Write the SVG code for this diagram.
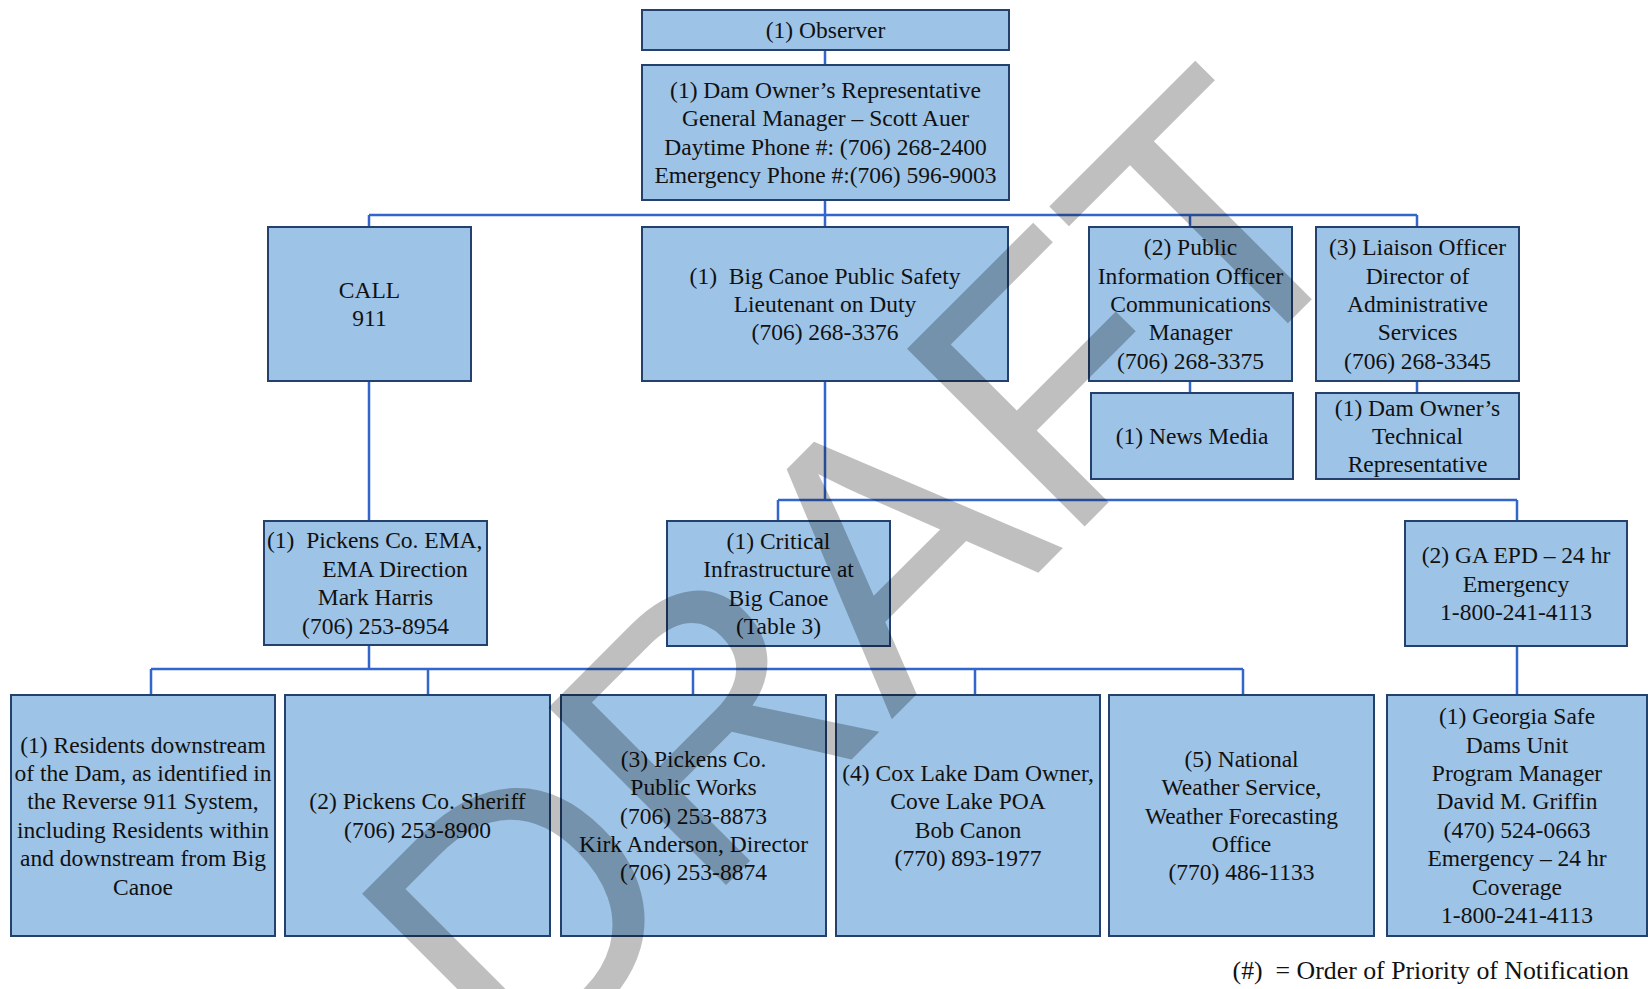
<svg xmlns="http://www.w3.org/2000/svg" width="1648" height="989" viewBox="0 0 1648 989">
<style>
.box{fill:#9DC3E6;stroke:#24406C;stroke-width:2}
.t{font-family:"Liberation Serif","Times New Roman",serif;font-size:23.5px;fill:#111;text-anchor:middle}
.conn{stroke:#3366CC;stroke-width:2.5;fill:none}
.wm{font-family:"Liberation Sans",Arial,sans-serif;font-size:365px;fill:#000;fill-opacity:0.25}
</style>
<rect width="1648" height="989" fill="#fff"/>
<g id="connectors">
<path class="conn" d="M825,50V65M825,200V227M369,215H1417M369,215V227M1190,215V227M1417,215V227M1190,381V393M1417,381V393M369,381V521M825,381V500M778,500H1517M778,500V521M1517,500V521M369,645V669M151,669H1243M151,669V695M428,669V695M693,669V695M975,669V695M1243,669V695M1517,646V695"/>
</g>
<g id="observer"><rect class="box" x="642" y="10" width="367" height="40"/>
<text class="t" x="825.5" y="38">(1) Observer</text></g>
<g id="dam-owner-rep"><rect class="box" x="642" y="65" width="367" height="135"/>
<text class="t" x="825.5" y="97.9"><tspan x="825.5">(1) Dam Owner’s Representative</tspan><tspan x="825.5" dy="28.4">General Manager – Scott Auer</tspan><tspan x="825.5" dy="28.4">Daytime Phone #: (706) 268-2400</tspan><tspan x="825.5" dy="28.4">Emergency Phone #:(706) 596-9003</tspan></text></g>
<g id="call-911"><rect class="box" x="268" y="227" width="203" height="154"/>
<text class="t" x="369.5" y="297.8"><tspan x="369.5">CALL</tspan><tspan x="369.5" dy="28.4">911</tspan></text></g>
<g id="big-canoe-safety"><rect class="box" x="642" y="227" width="366" height="154"/>
<text class="t" x="825" y="283.6"><tspan x="825" xml:space="preserve">(1)  Big Canoe Public Safety</tspan><tspan x="825" dy="28.4">Lieutenant on Duty</tspan><tspan x="825" dy="28.4">(706) 268-3376</tspan></text></g>
<g id="pio"><rect class="box" x="1089" y="227" width="203" height="154"/>
<text class="t" x="1190.5" y="255.2"><tspan x="1190.5">(2) Public</tspan><tspan x="1190.5" dy="28.4">Information Officer</tspan><tspan x="1190.5" dy="28.4">Communications</tspan><tspan x="1190.5" dy="28.4">Manager</tspan><tspan x="1190.5" dy="28.4">(706) 268-3375</tspan></text></g>
<g id="liaison"><rect class="box" x="1316" y="227" width="203" height="154"/>
<text class="t" x="1417.5" y="255.2"><tspan x="1417.5">(3) Liaison Officer</tspan><tspan x="1417.5" dy="28.4">Director of</tspan><tspan x="1417.5" dy="28.4">Administrative</tspan><tspan x="1417.5" dy="28.4">Services</tspan><tspan x="1417.5" dy="28.4">(706) 268-3345</tspan></text></g>
<g id="news-media"><rect class="box" x="1091" y="393" width="202" height="86"/>
<text class="t" x="1192" y="444">(1) News Media</text></g>
<g id="tech-rep"><rect class="box" x="1316" y="393" width="203" height="86"/>
<text class="t" x="1417.5" y="415.6"><tspan x="1417.5">(1) Dam Owner’s</tspan><tspan x="1417.5" dy="28.4">Technical</tspan><tspan x="1417.5" dy="28.4">Representative</tspan></text></g>
<g id="pickens-ema"><rect class="box" x="264" y="521" width="223" height="124"/>
<text class="t" y="548.4"><tspan x="267" style="text-anchor:start" xml:space="preserve">(1)  Pickens Co. EMA,</tspan><tspan x="395" dy="28.4">EMA Direction</tspan><tspan x="375.5" dy="28.4">Mark Harris</tspan><tspan x="375.5" dy="28.4">(706) 253-8954</tspan></text></g>
<g id="critical-infra"><rect class="box" x="667" y="521" width="223" height="125"/>
<text class="t" x="778.5" y="548.9"><tspan x="778.5">(1) Critical</tspan><tspan x="778.5" dy="28.4">Infrastructure at</tspan><tspan x="778.5" dy="28.4">Big Canoe</tspan><tspan x="778.5" dy="28.4">(Table 3)</tspan></text></g>
<g id="ga-epd"><rect class="box" x="1405" y="521" width="222" height="125"/>
<text class="t" x="1516" y="563.1"><tspan x="1516">(2) GA EPD – 24 hr</tspan><tspan x="1516" dy="28.4">Emergency</tspan><tspan x="1516" dy="28.4">1-800-241-4113</tspan></text></g>
<g id="residents"><rect class="box" x="11" y="695" width="264" height="241"/>
<text class="t" x="143" y="752.5"><tspan x="143">(1) Residents downstream</tspan><tspan x="143" dy="28.4">of the Dam, as identified in</tspan><tspan x="143" dy="28.4">the Reverse 911 System,</tspan><tspan x="143" dy="28.4">including Residents within</tspan><tspan x="143" dy="28.4">and downstream from Big</tspan><tspan x="143" dy="28.4">Canoe</tspan></text></g>
<g id="sheriff"><rect class="box" x="285" y="695" width="265" height="241"/>
<text class="t" x="417.5" y="809.3"><tspan x="417.5">(2) Pickens Co. Sheriff</tspan><tspan x="417.5" dy="28.4">(706) 253-8900</tspan></text></g>
<g id="public-works"><rect class="box" x="561" y="695" width="265" height="241"/>
<text class="t" x="693.5" y="766.7"><tspan x="693.5">(3) Pickens Co.</tspan><tspan x="693.5" dy="28.4">Public Works</tspan><tspan x="693.5" dy="28.4">(706) 253-8873</tspan><tspan x="693.5" dy="28.4">Kirk Anderson, Director</tspan><tspan x="693.5" dy="28.4">(706) 253-8874</tspan></text></g>
<g id="cox-lake"><rect class="box" x="836" y="695" width="264" height="241"/>
<text class="t" x="968" y="780.9"><tspan x="968">(4) Cox Lake Dam Owner,</tspan><tspan x="968" dy="28.4">Cove Lake POA</tspan><tspan x="968" dy="28.4">Bob Canon</tspan><tspan x="968" dy="28.4">(770) 893-1977</tspan></text></g>
<g id="nws"><rect class="box" x="1109" y="695" width="265" height="241"/>
<text class="t" x="1241.5" y="766.7"><tspan x="1241.5">(5) National</tspan><tspan x="1241.5" dy="28.4">Weather Service,</tspan><tspan x="1241.5" dy="28.4">Weather Forecasting</tspan><tspan x="1241.5" dy="28.4">Office</tspan><tspan x="1241.5" dy="28.4">(770) 486-1133</tspan></text></g>
<g id="safe-dams"><rect class="box" x="1387" y="695" width="260" height="241"/>
<text class="t" x="1517" y="724.1"><tspan x="1517">(1) Georgia Safe</tspan><tspan x="1517" dy="28.4">Dams Unit</tspan><tspan x="1517" dy="28.4">Program Manager</tspan><tspan x="1517" dy="28.4">David M. Griffin</tspan><tspan x="1517" dy="28.4">(470) 524-0663</tspan><tspan x="1517" dy="28.4">Emergency – 24 hr</tspan><tspan x="1517" dy="28.4">Coverage</tspan><tspan x="1517" dy="28.4">1-800-241-4113</tspan></text></g>
<g id="legend"><text class="t" x="1629" y="979" style="text-anchor:end;font-size:25.8px" xml:space="preserve">(#)  = Order of Priority of Notification</text></g>
<g id="watermark"><text class="wm" x="0" y="0" transform="translate(518.5,1092.5) rotate(-45)">DRAFT</text></g>
</svg>
